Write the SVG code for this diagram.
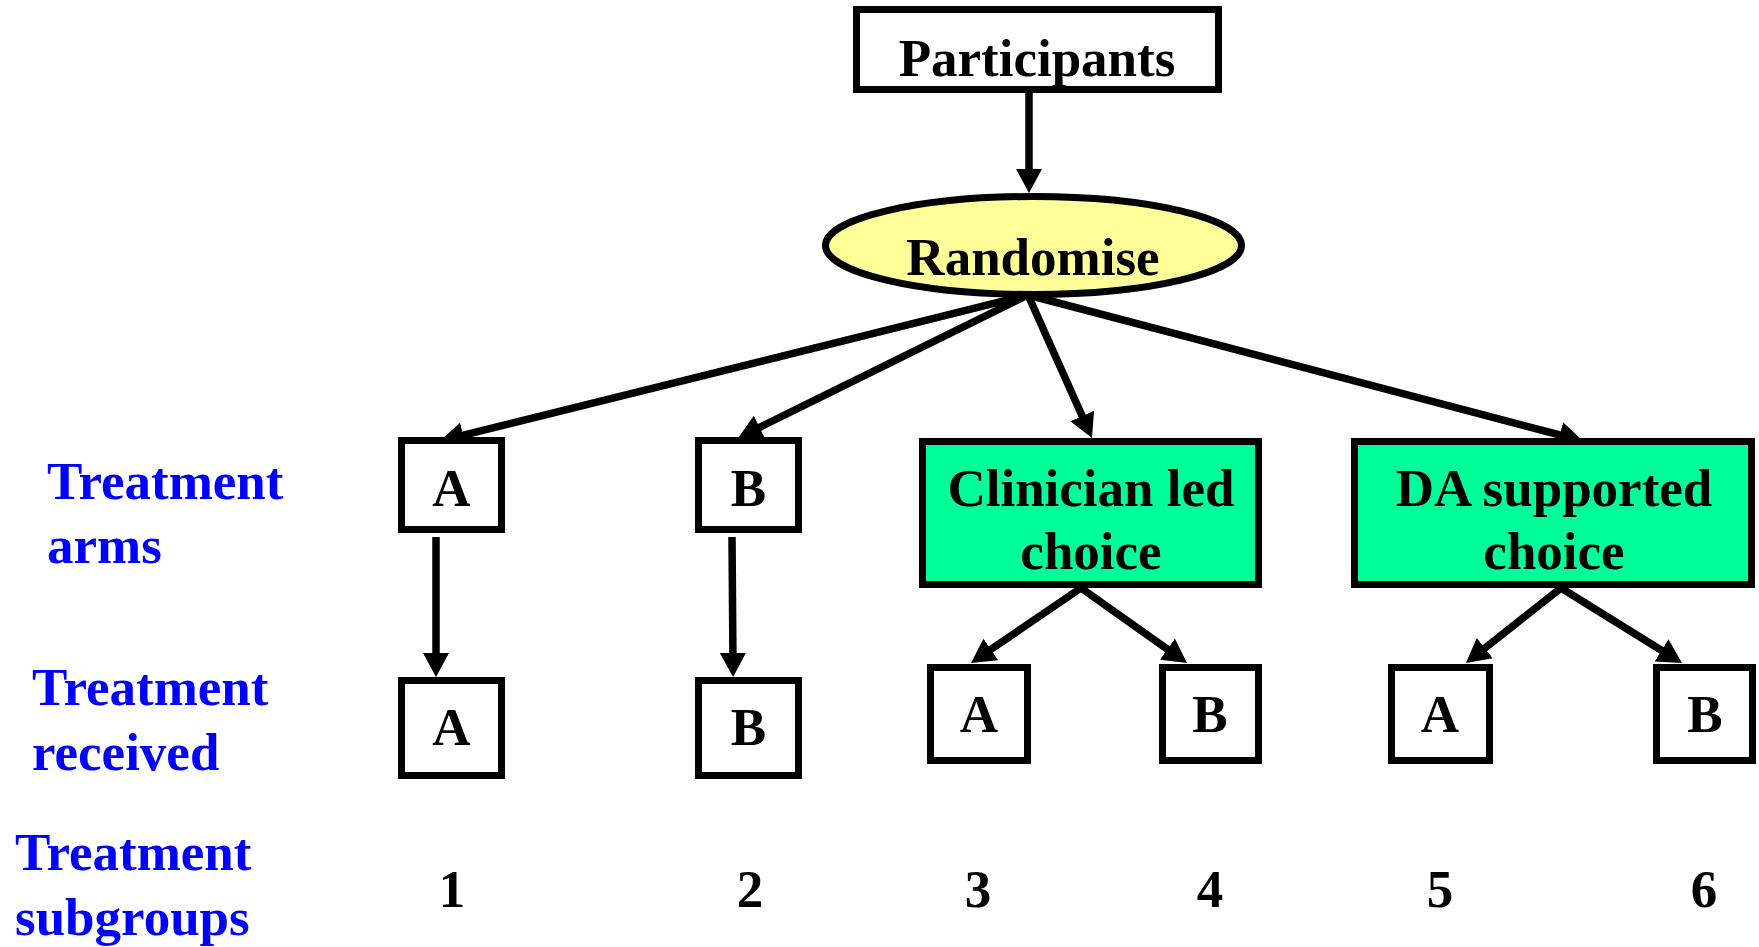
<svg xmlns="http://www.w3.org/2000/svg" width="1759" height="947" viewBox="0 0 1759 947">
  <style>
    text { font-family: "Liberation Serif", "Times New Roman", serif; font-weight: bold; font-size: 53px; }
    .c { text-anchor: middle; fill: #000; }
    .lbl { fill: #0000FF; }
    .box { fill: #FFFFFF; stroke: #000; stroke-width: 7; }
    .arm { fill: #00FF99; stroke: #000; stroke-width: 7; }
    .oval { fill: #FFFF99; stroke: #000; stroke-width: 7; }
    .edge { stroke: #000; stroke-width: 7.5; fill: none; marker-end: url(#head); }
  </style>
  <defs>
    <marker id="head" markerUnits="userSpaceOnUse" markerWidth="24" markerHeight="26" refX="12" refY="13" orient="auto">
      <path d="M0,0 L24,13 L0,26 z" fill="#000"/>
    </marker>
  </defs>

  <rect width="1759" height="947" fill="#FFFFFF"/>

  <!-- row labels -->
  <g id="row-labels">
    <text class="lbl" x="47" y="499">Treatment</text>
    <text class="lbl" x="47" y="563">arms</text>
    <text class="lbl" x="32" y="705">Treatment</text>
    <text class="lbl" x="32" y="770">received</text>
    <text class="lbl" x="15" y="870">Treatment</text>
    <text class="lbl" x="15" y="935">subgroups</text>
  </g>

  <!-- connectors -->
  <g id="connectors">
    <line class="edge" x1="1029" y1="93" x2="1029" y2="181"/>
    <line class="edge" x1="1028" y1="295" x2="451.6" y2="438.1"/>
    <line class="edge" x1="1028" y1="295" x2="748.8" y2="432.7"/>
    <line class="edge" x1="1028" y1="295" x2="1087.1" y2="427"/>
    <line class="edge" x1="1028" y1="295" x2="1571.4" y2="438"/>
    <line class="edge" x1="436" y1="537" x2="436" y2="665"/>
    <line class="edge" x1="732" y1="537" x2="733" y2="665"/>
    <line class="edge" x1="1081" y1="588" x2="980.9" y2="656.2"/>
    <line class="edge" x1="1081" y1="588" x2="1177.2" y2="656.1"/>
    <line class="edge" x1="1561" y1="588" x2="1475.4" y2="655.6"/>
    <line class="edge" x1="1561" y1="588" x2="1671.8" y2="656.7"/>
  </g>

  <g id="participants">
    <rect class="box" x="856.5" y="9.5" width="362" height="80"/>
    <text class="c" x="1037" y="76">Participants</text>
  </g>

  <g id="randomise">
    <ellipse class="oval" cx="1033.5" cy="245.5" rx="208" ry="49"/>
    <text class="c" x="1033" y="275">Randomise</text>
  </g>

  <g id="arm-a">
    <rect class="box" x="401.5" y="440.5" width="100" height="89"/>
    <text class="c" x="451.5" y="506">A</text>
  </g>
  <g id="arm-b">
    <rect class="box" x="698.5" y="440.5" width="100" height="89"/>
    <text class="c" x="748.5" y="506">B</text>
  </g>
  <g id="arm-clinician">
    <rect class="arm" x="922.5" y="441.5" width="336" height="143"/>
    <text class="c" x="1091" y="506">Clinician led</text>
    <text class="c" x="1091" y="569">choice</text>
  </g>
  <g id="arm-da">
    <rect class="arm" x="1354.5" y="441.5" width="397" height="143"/>
    <text class="c" x="1554" y="506">DA supported</text>
    <text class="c" x="1554" y="569">choice</text>
  </g>

  <g id="recv-1">
    <rect class="box" x="401.5" y="680.5" width="100" height="95"/>
    <text class="c" x="451.5" y="745">A</text>
  </g>
  <g id="recv-2">
    <rect class="box" x="698.5" y="680.5" width="100" height="95"/>
    <text class="c" x="748.5" y="745">B</text>
  </g>
  <g id="recv-3">
    <rect class="box" x="930.5" y="667.5" width="97" height="93"/>
    <text class="c" x="979" y="732">A</text>
  </g>
  <g id="recv-4">
    <rect class="box" x="1162.5" y="667.5" width="96" height="93"/>
    <text class="c" x="1210" y="732">B</text>
  </g>
  <g id="recv-5">
    <rect class="box" x="1391.5" y="667.5" width="98" height="93"/>
    <text class="c" x="1440" y="732">A</text>
  </g>
  <g id="recv-6">
    <rect class="box" x="1656.5" y="667.5" width="96" height="93"/>
    <text class="c" x="1705" y="732">B</text>
  </g>

  <g id="subgroups">
    <text class="c" x="452" y="907">1</text>
    <text class="c" x="750" y="907">2</text>
    <text class="c" x="978" y="907">3</text>
    <text class="c" x="1210" y="907">4</text>
    <text class="c" x="1440" y="907">5</text>
    <text class="c" x="1704" y="907">6</text>
  </g>
</svg>
